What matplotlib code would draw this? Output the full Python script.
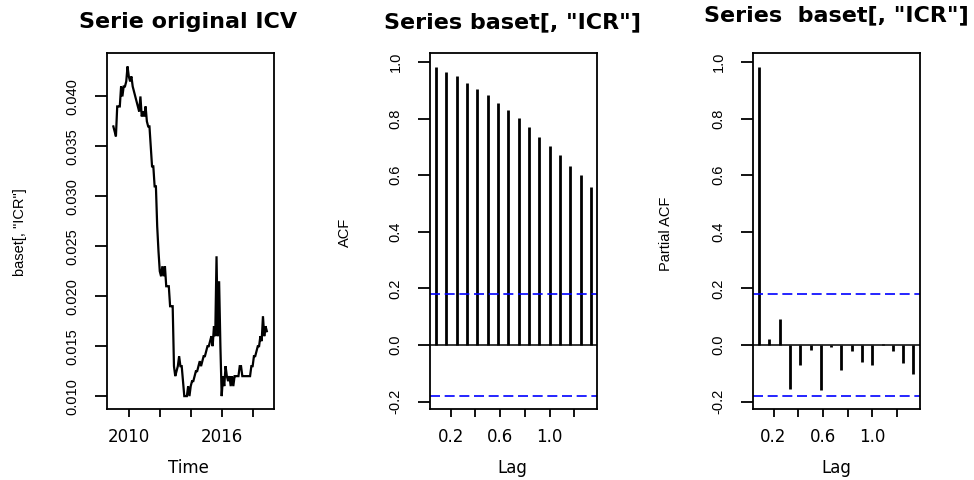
import numpy as np
import matplotlib
matplotlib.use("Agg")
import matplotlib.pyplot as plt

plt.rcParams['font.family'] = ['DejaVu Sans']

# ---------------- data ----------------
start_year = 2009
freq = 12
icr = [0.037, 0.0365, 0.036, 0.039, 0.039, 0.039, 0.041, 0.040, 0.041, 0.041,
       0.0415, 0.043, 0.042, 0.0415, 0.042, 0.041, 0.0405, 0.040, 0.0395, 0.039,
       0.0385, 0.040, 0.038, 0.0385, 0.038, 0.039, 0.0375, 0.037, 0.037, 0.035,
       0.033, 0.033, 0.031, 0.031, 0.027, 0.0245, 0.0225, 0.022, 0.023, 0.022,
       0.023, 0.021, 0.021, 0.021, 0.019, 0.019, 0.019, 0.013, 0.012, 0.0125,
       0.013, 0.014, 0.013, 0.013, 0.0115, 0.010, 0.010, 0.010, 0.011, 0.010,
       0.011, 0.0115, 0.0115, 0.012, 0.0125, 0.0125, 0.013, 0.0135, 0.013, 0.0135,
       0.014, 0.014, 0.0145, 0.015, 0.015, 0.0155, 0.016, 0.015, 0.017, 0.016,
       0.024, 0.016, 0.0215, 0.015, 0.010, 0.012, 0.011, 0.013, 0.012, 0.0115,
       0.012, 0.011, 0.012, 0.011, 0.012, 0.012, 0.012, 0.012, 0.013, 0.013,
       0.012, 0.012, 0.012, 0.012, 0.012, 0.012, 0.012, 0.013, 0.013, 0.014,
       0.014, 0.0145, 0.015, 0.015, 0.016, 0.0155, 0.018, 0.016, 0.017, 0.0165]

acf_vals = [0.984, 0.965, 0.950, 0.927, 0.904, 0.885, 0.857, 0.829,
            0.802, 0.769, 0.736, 0.704, 0.671, 0.634, 0.600, 0.558]
pacf_vals = [0.984, 0.020, 0.092, -0.155, -0.070, -0.017, -0.159, -0.007,
             -0.089, -0.022, -0.060, -0.070, 0.002, -0.022, -0.065, -0.103]

ts_ticks = [2010, 2012, 2014, 2016, 2018]
ts_ticklabels = ['2010', '', '', '2016', '']
ts_yticks = [0.010, 0.015, 0.020, 0.025, 0.030, 0.035, 0.040]
ts_yticklabels = ['0.010', '0.015', '0.020', '0.025', '0.030', '0.035', '0.040']
lag_ticks = [0.2, 0.4, 0.6, 0.8, 1.0, 1.2]
lag_ticklabels = ['0.2', '', '0.6', '', '1.0', '']
acf_yticks = [-0.2, 0.0, 0.2, 0.4, 0.6, 0.8, 1.0]
acf_yticklabels = ['-0.2', '0.0', '0.2', '0.4', '0.6', '0.8', '1.0']

titles = ['Serie original ICV', 'Series baset[, "ICR"]', 'Series  baset[, "ICR"]']
xlabels = ['Time', 'Lag', 'Lag']
ylabels = ['baset[, "ICR"]', 'ACF', 'Partial ACF']

# ---------------- figure ----------------
W, H = 974, 480
fig = plt.figure(figsize=(W / 100, H / 100), dpi=100)

def px_axes(x0, y0, x1, y1):
    return fig.add_axes([x0 / W, 1 - y1 / H, (x1 - x0) / W, (y1 - y0) / H])

ax1 = px_axes(107, 53.3, 274, 409.3)
ax2 = px_axes(430, 53.3, 597, 409.3)
ax3 = px_axes(753, 53.3, 919.5, 409.3)

n = len(icr)
time = start_year + np.arange(n) / freq
lags = np.arange(1, len(acf_vals) + 1) / freq
clim = 1.96 / np.sqrt(n)

ax1.plot(time, icr, color='black', lw=1.6, solid_joinstyle='miter')
ax1.set_xlim(2008.59, 2019.38)
ax1.set_ylim(0.00868, 0.04432)
ax1.set_xticks(ts_ticks)
ax1.set_xticklabels(ts_ticklabels)
ax1.set_yticks(ts_yticks)
ax1.set_yticklabels(ts_yticklabels)

for ax, vals in ((ax2, acf_vals), (ax3, pacf_vals)):
    ax.vlines(lags, 0, vals, color='black', lw=2.0)
    ax.axhline(0, color='black', lw=1.1)
    for c in (clim, -clim):
        ax.axhline(c, color='#0000FF', lw=1.2, linestyle=(0, (6, 2.8)))
    ax.set_xlim(lags[0] - 0.05, lags[-1] + 0.05)
    ax.set_ylim(-0.227, 1.031)
    ax.set_xticks(lag_ticks)
    ax.set_xticklabels(lag_ticklabels)
    ax.set_yticks(acf_yticks)
    ax.set_yticklabels(acf_yticklabels)

for ax in (ax1, ax2, ax3):
    for s in ax.spines.values():
        s.set_linewidth(1.3)
        s.set_color('black')
    ax.tick_params(axis='x', direction='out', length=5.8, width=1.3, pad=8,
                   labelsize=12)
    ax.tick_params(axis='y', direction='out', length=8.6, width=1.3, pad=11,
                   labelsize=10.5)
    for lab in ax.get_yticklabels():
        lab.set_rotation(90)
        lab.set_va('center')
        lab.set_fontfamily(['Liberation Sans', 'DejaVu Sans'])

def ftext(x, y, s, **kw):
    fig.text(x / W, 1 - y / H, s, **kw)

title_pos = [(188.5, 22), (512.5, 22), (836.5, 15)]
for (x, y), t in zip(title_pos, titles):
    ftext(x, y, t, ha='center', va='center', fontsize=16, fontweight='bold')

xlab_pos = [(188, 468), (512.5, 468), (836, 468)]
for (x, y), t in zip(xlab_pos, xlabels):
    ftext(x, y, t, ha='center', va='center', fontsize=12)

ylab_pos = [(20, 232), (345, 232), (666.5, 234)]
for (x, y), t in zip(ylab_pos, ylabels):
    ftext(x, y, t, ha='center', va='center', fontsize=10.5, rotation=90,
          family=['Liberation Sans', 'DejaVu Sans'])

fig.savefig('out.png', dpi=100, facecolor='white')
